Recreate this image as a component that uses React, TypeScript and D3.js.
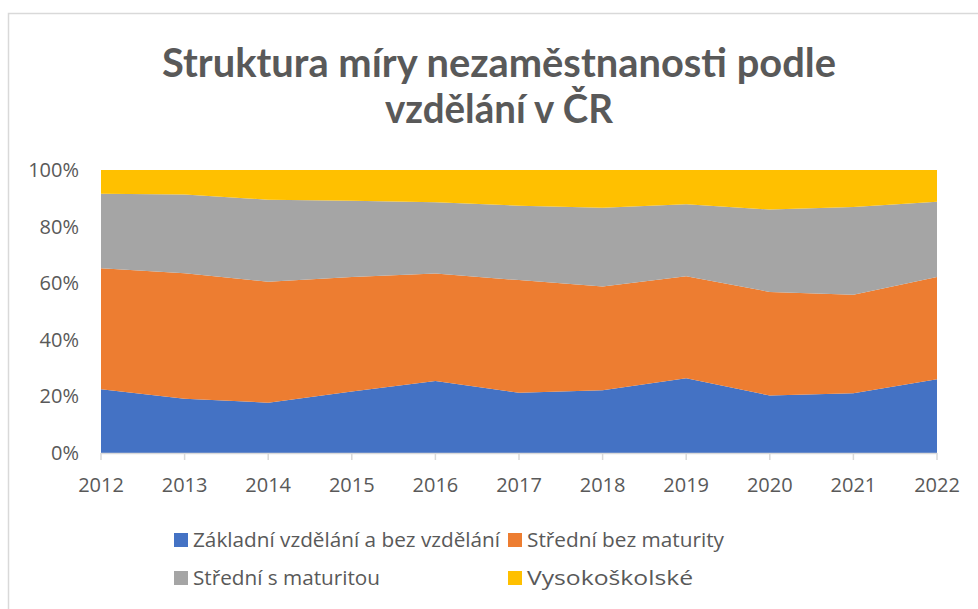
import React from "react";
import * as d3 from "d3";

const years = ["2012", "2013", "2014", "2015", "2016", "2017", "2018", "2019", "2020", "2021", "2022"];
const zakladni = [22.5, 19.2, 17.8, 21.7, 25.4, 21.3, 22.2, 26.4, 20.3, 21.1, 26.1];
const stredniBez = [42.8, 44.3, 42.7, 40.5, 38.0, 39.8, 36.6, 36.1, 36.6, 34.8, 36.1];
const stredniS = [26.3, 27.8, 29.0, 26.9, 25.2, 26.3, 27.9, 25.4, 29.1, 31.0, 26.6];
const vysokoskolske = [8.4, 8.7, 10.5, 10.9, 11.4, 12.6, 13.3, 12.1, 14.0, 13.1, 11.2];
const seriesNames = ["Základní vzdělání a bez vzdělání", "Střední bez maturity", "Střední s maturitou", "Vysokoškolské"];
const yTicks = [0, 0.2, 0.4, 0.6, 0.8, 1];
const titleLines = ["Struktura míry nezaměstnanosti podle", "vzdělání v ČR"];

const colors = ["#4472C4", "#ED7D31", "#A5A5A5", "#FFC000"];
const textColor = "#595959";

export default function App() {
  const W = 978, H = 609;
  const left = 101, right = 937, top = 170, bottom = 453;
  const seriesValues = [zakladni, stredniBez, stredniS, vysokoskolske];
  const table = years.map((y, i) => {
    const row: any = { year: y };
    seriesNames.forEach((n, k) => (row[n] = seriesValues[k][i]));
    return row;
  });
  const stack = d3.stack<any>().keys(seriesNames).offset(d3.stackOffsetExpand);
  const stacked = stack(table);
  const x = d3.scalePoint<string>().domain(years).range([left, right]);
  const y = d3.scaleLinear().domain([0, 1]).range([bottom, top]);
  const area = d3
    .area<any>()
    .x((d) => x(d.data.year) as number)
    .y0((d) => y(d[0]))
    .y1((d) => y(d[1]));
  const fmt = d3.format(".0%");

  const legendItems = [
    { i: 0, x: 174, y: 540, w: 307 },
    { i: 1, x: 508, y: 540, w: 197 },
    { i: 2, x: 174, y: 578, w: 187 },
    { i: 3, x: 508, y: 578, w: 166 },
  ];

  return (
    <svg width={W} height={H} style={{ position: "absolute", left: 0, top: 0 }} fontFamily="'Open Sans', sans-serif">
      <rect x={0} y={0} width={W} height={H} fill="#fff" />
      <path d={`M8.5,${H} V13.5 H${W}`} fill="none" stroke="#d9d9d9" strokeWidth={1.5} />
      <g fontFamily="Lato, sans-serif" fontWeight="bold" fill={textColor} fontSize={40} textAnchor="middle">
        <text x={499} y={77} textLength={674} lengthAdjust="spacingAndGlyphs">{titleLines[0]}</text>
        <text x={499} y={123} textLength={228} lengthAdjust="spacingAndGlyphs">{titleLines[1]}</text>
      </g>
      {stacked.map((s, k) => (
        <path key={k} d={area(s as any) || ""} fill={colors[k]} />
      ))}
      <line x1={left} x2={right} y1={bottom + 0.5} y2={bottom + 0.5} stroke="#d9d9d9" strokeWidth={1.5} />
      {years.map((yr) => (
        <g key={yr}>
          <line x1={x(yr)} x2={x(yr)} y1={bottom} y2={bottom + 7} stroke="#d9d9d9" strokeWidth={1.5} />
          <text x={x(yr)} y={492} textAnchor="middle" fontSize={20} fill={textColor}>{yr}</text>
        </g>
      ))}
      {yTicks.map((t) => (
        <text key={t} x={79} y={y(t) + 7} textAnchor="end" fontSize={20} fill={textColor}>{fmt(t)}</text>
      ))}
      {legendItems.map((it) => (
        <g key={it.i}>
          <rect x={it.x} y={it.y - 7} width={14} height={14} fill={colors[it.i]} />
          <text x={it.x + 19} y={it.y + 7} fontSize={20} fill={textColor} textLength={it.w} lengthAdjust="spacingAndGlyphs">
            {seriesNames[it.i]}
          </text>
        </g>
      ))}
    </svg>
  );
}
